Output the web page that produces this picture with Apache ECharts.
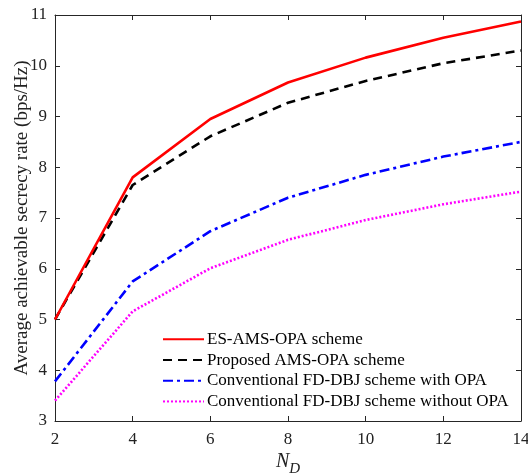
<!DOCTYPE html>
<html><head><meta charset="utf-8">
<script src="https://cdn.jsdelivr.net/npm/echarts@6/dist/echarts.min.js"></script>
<style>html,body{margin:0;padding:0;background:#fff;}#c{width:528px;height:474px;}</style>
</head><body><div id="c"></div>
<script>
var xValues = [2, 4, 6, 8, 10, 12, 14];
var esAmsOpa = [5.0, 7.8, 8.95, 9.67, 10.16, 10.55, 10.87];
var proposedAmsOpa = [5.0, 7.65, 8.61, 9.27, 9.7, 10.05, 10.3];
var fdDbjWithOpa = [3.78, 5.75, 6.74, 7.4, 7.85, 8.21, 8.5];
var fdDbjWithoutOpa = [3.4, 5.16, 6.01, 6.57, 6.96, 7.27, 7.52];
var seriesNames = ['ES-AMS-OPA scheme', 'Proposed AMS-OPA scheme', 'Conventional FD-DBJ scheme with OPA', 'Conventional FD-DBJ scheme without OPA'];

function pairs(arr){ return xValues.map(function(x,i){ return [x, arr[i]]; }); }
var font = 'Liberation Serif, Times New Roman, serif';
var axisCol = '#262626';
var chart = echarts.init(document.getElementById('c'), null, {renderer:'canvas'});
var baseAxis = {
  axisLine:{show:true, onZero:false, lineStyle:{color:axisCol, width:1}},
  axisTick:{show:true, inside:true, length:5, lineStyle:{color:axisCol}},
  splitLine:{show:false}
};
chart.setOption({
  animation:false,
  backgroundColor:'#fff',
  grid:{left:55, top:15, right:7, bottom:53, containLabel:false, outerBoundsMode:'none'},
  legend:{
    left:162, top:329, orient:'vertical', itemWidth:41, itemHeight:12, itemGap:0,
    textStyle:{fontFamily:font, fontSize:17, color:'#000', lineHeight:20.7, padding:[0,0,0,-2]},
    itemStyle:{opacity:0},
    backgroundColor:'transparent', borderWidth:0, padding:0,
    data:seriesNames
  },
  xAxis:[
    Object.assign({}, baseAxis, {type:'value', min:2, max:14, interval:2, position:'bottom',
      axisLabel:{fontFamily:font, fontSize:17, color:'#222', margin:10},
      name:'{n|N}{d|D}', nameLocation:'middle', nameGap:25, nameMoveOverlap:false,
      nameTextStyle:{verticalAlign:'top', rich:{n:{fontFamily:font, fontStyle:'italic', fontSize:20, color:'#222'}, d:{fontFamily:font, fontStyle:'italic', fontSize:15, color:'#222', padding:[16,0,0,0]}}}
    }),
    Object.assign({}, baseAxis, {type:'value', min:2, max:14, interval:2, position:'top', axisLabel:{show:false}})
  ],
  yAxis:[
    Object.assign({}, baseAxis, {type:'value', min:3, max:11, interval:1, position:'left',
      axisLabel:{fontFamily:font, fontSize:17, color:'#222', margin:8},
      name:'Average achievable secrecy rate (bps/Hz)', nameLocation:'middle', nameGap:23, nameMoveOverlap:false,
      nameTextStyle:{fontFamily:font, fontSize:19, color:'#222'}
    }),
    Object.assign({}, baseAxis, {type:'value', min:3, max:11, interval:1, position:'right', axisLabel:{show:false}})
  ],
  series:[
    {name:seriesNames[0], type:'line', data:pairs(esAmsOpa), symbol:'none', lineStyle:{color:'#ff0000', width:2.6, type:'solid'}, itemStyle:{color:'#ff0000'}, z:5},
    {name:seriesNames[1], type:'line', data:pairs(proposedAmsOpa), symbol:'none', lineStyle:{color:'#000000', width:2.6, type:[9,6]}, itemStyle:{color:'#000'}, z:4},
    {name:seriesNames[2], type:'line', data:pairs(fdDbjWithOpa), symbol:'none', lineStyle:{color:'#0000ff', width:2.6, type:[10,4,3,4]}, itemStyle:{color:'#0000ff'}, z:3},
    {name:seriesNames[3], type:'line', data:pairs(fdDbjWithoutOpa), symbol:'none', lineStyle:{color:'#ff00ff', width:2.6, type:[2,2]}, itemStyle:{color:'#ff00ff'}, z:2}
  ]
});
</script></body></html>
